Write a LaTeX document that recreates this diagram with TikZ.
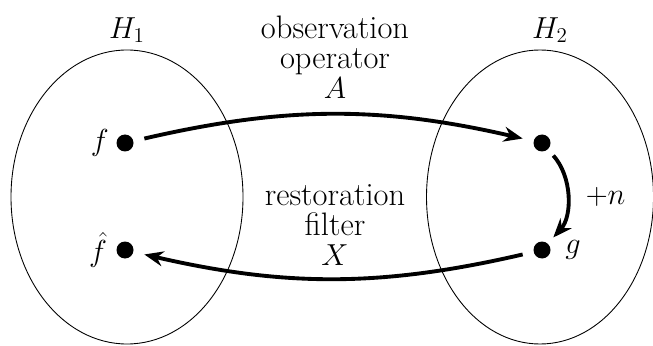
\documentclass[tikz,border=0pt]{standalone}
\usepackage{amsmath}
\usepackage{tikz}
\usetikzlibrary{arrows.meta,positioning}

\begin{document}
\begin{tikzpicture}[
  font=\fontsize{18.5}{22}\selectfont, x=1cm, y=1cm,
  pt/.style={circle, fill=black, minimum size=3.4mm, inner sep=0pt},
  map/.style={-{Stealth[length=3.8mm,width=3mm]}, line width=2.2pt,
              shorten <=2.2mm, shorten >=2.2mm},
  lbl/.style={inner sep=2pt, align=center}]

  \useasboundingbox (0,0) rectangle (13.06,6.9);

  % ---------- the two spaces ----------
  \draw[line width=0.5pt] (2.54,2.96) ellipse (2.32 and 2.94);
  \draw[line width=0.5pt] (10.8,2.96) ellipse (2.27 and 2.94);
  \node[lbl] (h1) at (2.54,6.3) {$H_1$};
  \node[lbl] (h2) at (11.0,6.3) {$H_2$};

  % ---------- points ----------
  \node[pt] (f)    at (2.5,4.04)  {};
  \node[pt] (fhat) at (2.5,1.9)   {};
  \node[pt] (af)   at (10.84,4.04) {};
  \node[pt] (g)    at (10.84,1.9)  {};

  \node[lbl,left=2pt of f]    {$f$};
  \node[lbl,left=3pt of fhat] {$\hat f$};
  \node[lbl,right=6pt of g]   {$g$};

  % ---------- mappings ----------
  \draw[map] (f) to[bend left=13] (af);
  \node[lbl] (obs) at (6.7,5.76) {observation\\[-5pt] operator\\[-5pt] $A$};

  \draw[map, shorten <=1.6mm, shorten >=1.6mm] (af) to[bend left=42]
    node[right=8pt, lbl] {$+n$} (g);

  \draw[map] (g) to[bend left=13] (fhat);
  \node[lbl] (rest) at (6.7,2.4) {restoration\\[-5pt] filter\\[-5pt] $X$};

\end{tikzpicture}
\end{document}
